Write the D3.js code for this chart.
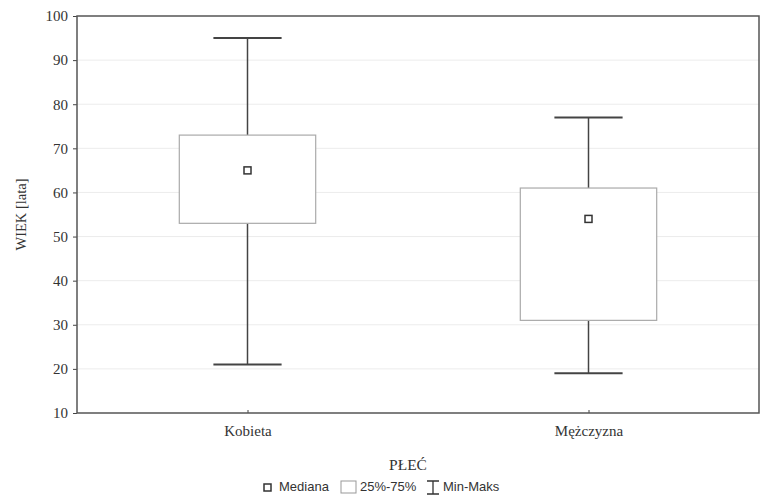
<!DOCTYPE html>
<html>
<head>
<meta charset="utf-8">
<script src="https://cdn.jsdelivr.net/npm/d3@7"></script>
<style>
  body { margin: 0; background: #fff; }
</style>
</head>
<body>
<div id="chart"></div>
<script>
const categories = ["Kobieta", "Mężczyzna"];
const mins = [21, 19];
const q1s = [53, 31];
const medians = [65, 54];
const q3s = [73, 61];
const maxs = [95, 77];
const yTicks = [10, 20, 30, 40, 50, 60, 70, 80, 90, 100];

let width = 764,
    height = 496,
    margin = ({ top: 16, right: 5, bottom: 83, left: 77 });

const serif = "'Liberation Serif', 'Times New Roman', serif";

const svg = d3.select("#chart")
  .append("svg")
  .attr("width", width)
  .attr("height", height);

const data = categories.map((c, i) => ({
  cat: c, min: mins[i], q1: q1s[i], med: medians[i], q3: q3s[i], max: maxs[i]
}));

let x = d3.scalePoint()
  .domain(categories)
  .range([margin.left, width - margin.right])
  .padding(0.5);

let y = d3.scaleLinear()
  .domain([10, 100])
  .range([height - margin.bottom, margin.top]);

const plotW = width - margin.left - margin.right;
const boxW = plotW * 0.2;
const capW = plotW * 0.1;

// grid
svg.append("g")
  .selectAll("line")
  .data(yTicks.slice(1, -1))
  .join("line")
  .attr("x1", margin.left)
  .attr("x2", width - margin.right)
  .attr("y1", d => y(d))
  .attr("y2", d => y(d))
  .attr("stroke", "#ececec");

// y axis
svg.append("g")
  .attr("transform", `translate(${margin.left},0)`)
  .call(d3.axisLeft(y).tickValues(yTicks).tickSize(4).tickPadding(5))
  .call(g => g.select(".domain").remove())
  .call(g => g.selectAll(".tick line").attr("stroke", "#444"))
  .call(g => g.selectAll(".tick text")
    .style("font-family", serif).style("font-size", "15px").attr("fill", "#333"));

// x axis
svg.append("g")
  .attr("transform", `translate(0,${height - margin.bottom})`)
  .call(d3.axisBottom(x).tickSize(-3).tickPadding(12))
  .call(g => g.select(".domain").remove())
  .call(g => g.selectAll(".tick line").attr("stroke", "#444"))
  .call(g => g.selectAll(".tick text")
    .attr("y", 23).attr("dy", 0)
    .style("font-family", serif).style("font-size", "15px").attr("fill", "#333"));

// frame
svg.append("rect")
  .attr("x", margin.left)
  .attr("y", margin.top)
  .attr("width", plotW)
  .attr("height", height - margin.top - margin.bottom)
  .attr("fill", "none")
  .attr("stroke", "#555")
  .attr("stroke-width", 1.5);

const box = svg.append("g").selectAll("g")
  .data(data)
  .join("g");

// whiskers
box.append("line")
  .attr("x1", d => x(d.cat)).attr("x2", d => x(d.cat))
  .attr("y1", d => y(d.max)).attr("y2", d => y(d.q3))
  .attr("stroke", "#444").attr("stroke-width", 1.5);
box.append("line")
  .attr("x1", d => x(d.cat)).attr("x2", d => x(d.cat))
  .attr("y1", d => y(d.q1)).attr("y2", d => y(d.min))
  .attr("stroke", "#444").attr("stroke-width", 1.5);
box.append("line")
  .attr("x1", d => x(d.cat) - capW / 2).attr("x2", d => x(d.cat) + capW / 2)
  .attr("y1", d => y(d.max)).attr("y2", d => y(d.max))
  .attr("stroke", "#444").attr("stroke-width", 2);
box.append("line")
  .attr("x1", d => x(d.cat) - capW / 2).attr("x2", d => x(d.cat) + capW / 2)
  .attr("y1", d => y(d.min)).attr("y2", d => y(d.min))
  .attr("stroke", "#444").attr("stroke-width", 2);

// boxes
box.append("rect")
  .attr("x", d => x(d.cat) - boxW / 2)
  .attr("y", d => y(d.q3))
  .attr("width", boxW)
  .attr("height", d => y(d.q1) - y(d.q3))
  .attr("fill", "#fff")
  .attr("stroke", "#aaa")
  .attr("stroke-width", 1.2);

// median
box.append("rect")
  .attr("x", d => x(d.cat) - 3.5)
  .attr("y", d => y(d.med) - 3.5)
  .attr("width", 7)
  .attr("height", 7)
  .attr("fill", "#fff")
  .attr("stroke", "#333")
  .attr("stroke-width", 1.5);

// axis titles
svg.append("text")
  .attr("text-anchor", "middle")
  .attr("transform", `translate(26,${(margin.top + height - margin.bottom) / 2}) rotate(-90)`)
  .style("font-family", serif)
  .style("font-size", "14.5px")
  .attr("fill", "#333")
  .text("WIEK [lata]");

svg.append("text")
  .attr("text-anchor", "middle")
  .attr("x", 408)
  .attr("y", 470)
  .style("font-family", serif)
  .style("font-size", "15.5px")
  .attr("fill", "#333")
  .text("PŁEĆ");

// legend
const legend = svg.append("g")
  .attr("transform", "translate(263,491)")
  .style("font-family", "'Liberation Sans', Arial, sans-serif")
  .style("font-size", "13px")
  .attr("fill", "#333");

legend.append("rect")
  .attr("x", 1).attr("y", -7).attr("width", 7).attr("height", 7)
  .attr("fill", "#fff").attr("stroke", "#333").attr("stroke-width", 1.5);
legend.append("text").attr("x", 16).attr("y", 0).text("Mediana");

legend.append("rect")
  .attr("x", 78).attr("y", -10).attr("width", 15).attr("height", 12)
  .attr("fill", "#fff").attr("stroke", "#999");
legend.append("text").attr("x", 97).attr("y", 0).text("25%-75%");

legend.append("path")
  .attr("d", "M164,-10H176M170,-10V3M164,3H176")
  .attr("stroke", "#333").attr("stroke-width", 1.3).attr("fill", "none");
legend.append("text").attr("x", 180).attr("y", 0).text("Min-Maks");
</script>
</body>
</html>
